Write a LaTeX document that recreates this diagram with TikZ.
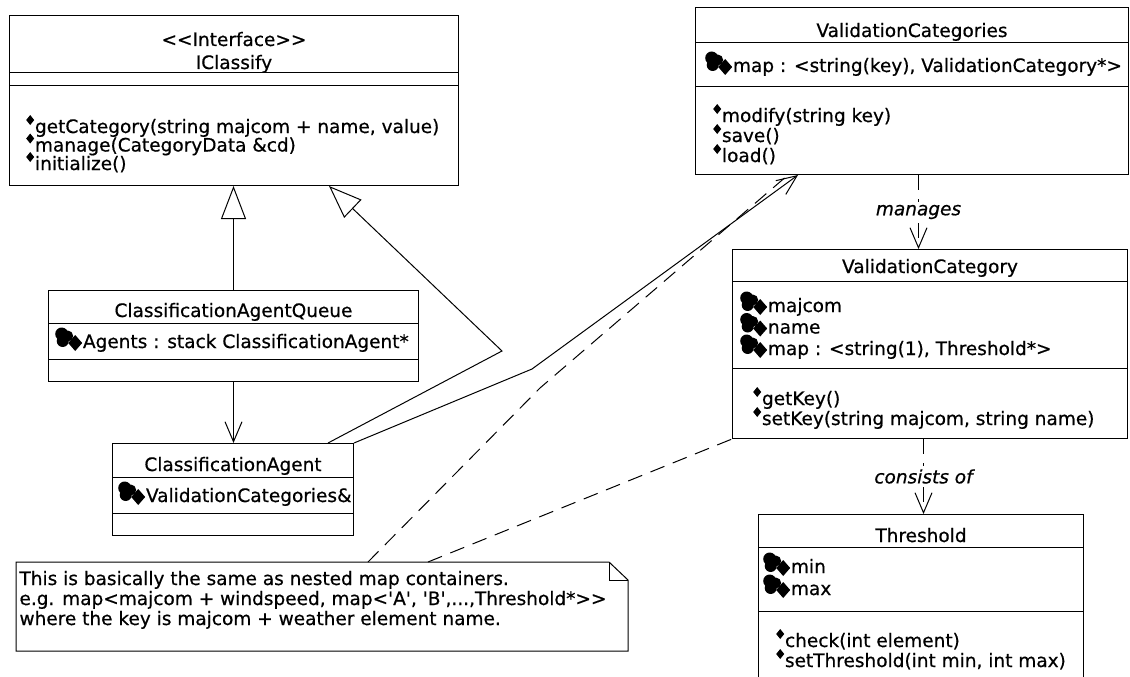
\documentclass[tikz,border=0pt]{standalone}
\usepackage{fontspec}
\newfontfamily\umlfont{DejaVu Sans}[FakeBold=0.6]
\usetikzlibrary{arrows.meta}

% small icons in front of members
\newcommand{\opmark}{\tikz[baseline=0pt]\fill (0pt,13pt) -- (4pt,18pt) -- (8pt,13pt) -- (4pt,8pt) -- cycle;\kern0.8pt}
\newcommand{\attrmark}{\tikz[baseline=0pt]{\fill (6.5pt,14pt) circle (6.5pt); \fill (12.5pt,12pt) circle (5.5pt); \fill (7.5pt,7pt) circle (6pt);
    \fill (20pt,-3pt) -- (27pt,5pt) -- (20pt,13pt) -- (13pt,5pt) -- cycle;}\kern0.8pt}

\begin{document}
\begin{tikzpicture}[x=1pt, y=-1pt, line width=1pt,
  font=\umlfont\fontsize{18.5}{19.5}\selectfont,
  umlbox/.style={draw, inner sep=0pt, anchor=north west},
  title/.style={inner sep=0pt, anchor=base},
  member/.style={inner sep=0pt, anchor=base west},
  realize/.style={-{Triangle[open, length=33pt, width=25pt]}},
  assoc/.style={-{Straight Barb[length=20pt, width=17pt]}},
  depend/.style={dash pattern=on 15pt off 9pt},
  rellabel/.style={font=\umlfont\fontsize{18.5}{19.5}\selectfont\itshape, fill=white, inner sep=3pt}]

  \useasboundingbox (0,0) rectangle (1130,677);

  % IClassify
  \node[umlbox, minimum width=449pt, minimum height=170pt] (iclassify) at (9,15) {};
  \draw (iclassify.west |- 0,73) -- (iclassify.east |- 0,73);
  \draw (iclassify.west |- 0,86) -- (iclassify.east |- 0,86);
  \node[title] (icl-stereo) at (iclassify.north |- 0,46) {<<Interface>>};
  \node[title] (icl-name) at (iclassify.north |- 0,69) {IClassify};
  \foreach \t [count=\i from 0] in {{getCategory(string majcom + name, value)}, {manage(CategoryData \&cd)}, {initialize()}}
    \node[member] (icl-op\i) at (26, 133+18.5*\i) {\opmark\t};

  % ValidationCategories
  \node[umlbox, minimum width=433pt, minimum height=167pt] (vcats) at (695,7) {};
  \draw (vcats.west |- 0,43) -- (vcats.east |- 0,43);
  \draw (vcats.west |- 0,87) -- (vcats.east |- 0,87);
  \node[title] (vcats-name) at (vcats.north |- 0,37) {ValidationCategories};
  \node[member] (vcats-attr) at (705,72) {\attrmark map : <string(key), ValidationCategory*>};
  \foreach \t [count=\i from 0] in {{modify(string key)}, {save()}, {load()}}
    \node[member] (vcats-op\i) at (713, 122+20*\i) {\opmark\t};

  % ClassificationAgentQueue
  \node[umlbox, minimum width=370pt, minimum height=91pt] (caqueue) at (48,290) {};
  \draw (caqueue.west |- 0,323) -- (caqueue.east |- 0,323);
  \draw (caqueue.west |- 0,359) -- (caqueue.east |- 0,359);
  \node[title] (caq-name) at (caqueue.north |- 0,317) {ClassificationAgentQueue};
  \node[member] (caq-attr) at (55,348) {\attrmark Agents : stack ClassificationAgent*};

  % ClassificationAgent
  \node[umlbox, minimum width=241pt, minimum height=92pt] (cagent) at (112,443) {};
  \draw (cagent.west |- 0,477) -- (cagent.east |- 0,477);
  \draw (cagent.west |- 0,513) -- (cagent.east |- 0,513);
  \node[title] (cag-name) at (cagent.north |- 0,471) {ClassificationAgent};
  \node[member] (cag-attr) at (118,502) {\attrmark ValidationCategories\&};

  % ValidationCategory
  \node[umlbox, minimum width=395pt, minimum height=189pt] (vcat) at (732,249) {};
  \draw (vcat.west |- 0,281) -- (vcat.east |- 0,281);
  \draw (vcat.west |- 0,368) -- (vcat.east |- 0,368);
  \node[title] (vcat-name) at (vcat.north |- 0,273) {ValidationCategory};
  \foreach \t [count=\i from 0] in {majcom, name, {map : <string(1), Threshold*>}}
    \node[member] (vcat-attr\i) at (740, 312+21.5*\i) {\attrmark\t};
  \foreach \t [count=\i from 0] in {{getKey()}, {setKey(string majcom, string name)}}
    \node[member] (vcat-op\i) at (753, 405+20*\i) {\opmark\t};

  % Threshold
  \node[umlbox, minimum width=325pt, minimum height=176pt] (threshold) at (758,514) {};
  \draw (threshold.west |- 0,547) -- (threshold.east |- 0,547);
  \draw (threshold.west |- 0,611) -- (threshold.east |- 0,611);
  \node[title] (thr-name) at (threshold.north |- 0,542) {Threshold};
  \foreach \t [count=\i from 0] in {min, max}
    \node[member] (thr-attr\i) at (763, 573+22*\i) {\attrmark\t};
  \foreach \t [count=\i from 0] in {{check(int element)}, {setThreshold(int min, int max)}}
    \node[member] (thr-op\i) at (776, 647+20*\i) {\opmark\t};

  % note
  \node[inner sep=0pt, minimum width=611pt, minimum height=88pt, anchor=north west] (note) at (16,562) {};
  \draw (note.north west) -- ([xshift=-19pt]note.north east) -- ([yshift=-18pt]note.north east)
    -- (note.south east) -- (note.south west) -- cycle;
  \draw ([xshift=-19pt]note.north east) |- ([yshift=-18pt]note.north east);
  \node[member] (note-line0) at (19,585) {This is basically the same as nested map containers.};
  \node[member] (note-line1) at (19,605) {e.g. map<majcom + windspeed, map<'A', 'B',...,Threshold*>>};
  \node[member] (note-line2) at (19,625) {where the key is majcom + weather element name.};

  % relations
  \coordinate (rbend) at (502,351);
  \coordinate (abend) at (532,369);
  \coordinate (dbend) at (540,388);
  \draw[realize] (caqueue.north) -- (caqueue.north |- iclassify.south);
  \draw[realize] ([xshift=-26pt]cagent.north east) -- (rbend) -- ([xshift=95pt]iclassify.south);
  \draw[assoc] (caqueue.south) -- (caqueue.south |- cagent.north);
  \draw[assoc] (cagent.north east) -- (abend) -- ([xshift=103pt]vcats.south west);
  \draw[depend] ([xshift=352pt]note.north west) -- (dbend) -- ([xshift=93pt]vcats.south west);
  \draw[depend] ([xshift=412pt]note.north west) -- (vcat.south west);

  \coordinate (mtop) at ([xshift=6.5pt]vcats.south);
  \draw[depend, assoc] (mtop) -- (mtop |- vcat.north) node[midway, rellabel] (manages) {manages};
  \coordinate (ctop) at ([xshift=-6.5pt]vcat.south);
  \draw[depend, assoc] (ctop) -- (ctop |- threshold.north) node[midway, rellabel] (consists) {consists of};

\end{tikzpicture}
\end{document}
